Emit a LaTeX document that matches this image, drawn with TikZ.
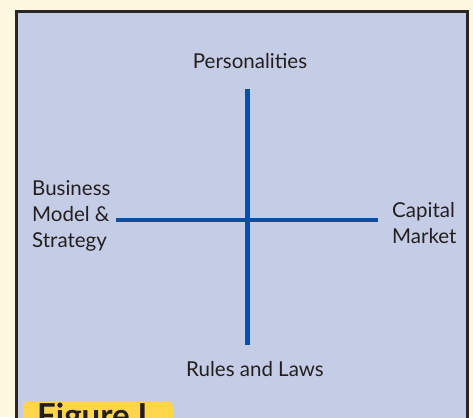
\documentclass[tikz,border=0pt]{standalone}
\usepackage{fontspec}
\setmainfont{Lato}
\definecolor{cream}{HTML}{FFF8E1}
\definecolor{panel}{HTML}{C5CDE6}
\definecolor{axis}{HTML}{0B4F9E}
\definecolor{framec}{HTML}{2A2626}
\definecolor{tabc}{HTML}{FFD54C}
\definecolor{txt}{HTML}{231F20}
\begin{document}
\begin{tikzpicture}[x=1pt,y=-1pt,
  lbl/.style={font=\fontsize{20.5}{26}\selectfont, text=txt, inner sep=0pt},
  axisline/.style={draw=axis, line width=4.5pt}]
\useasboundingbox (0,0) rectangle (473,417);
\fill[cream] (0,0) rectangle (473,417);
\begin{scope}
\clip (0,0) rectangle (473,417);
\draw[framec, line width=3pt, fill=panel] (16.5,11.5) rectangle (467.5,440);
\fill[tabc, rounded corners=6pt] (23,401) rectangle (173,440);
\node[anchor=north west, inner sep=0pt, font=\bfseries\fontsize{33}{36}\selectfont, text=txt] (fig) at (37,403) {Figure I};
\end{scope}
\node[lbl] (pers) at (250,61) {Personalities};
\node[lbl] (rules) at (255,369) {Rules and Laws};
\node[lbl, align=left, anchor=west] (biz) at (32,216) {Business\\Model \&\\Strategy};
\node[lbl, align=left, anchor=west] (cap) at (392,223) {Capital\\Market};
\coordinate (top) at (247.5,89);
\coordinate (bot) at (247.5,345);
\coordinate (left) at (116,220);
\coordinate (right) at (378,220);
\draw[axisline] (top) -- (bot);
\draw[axisline] (left) -- (right);
\end{tikzpicture}
\end{document}
